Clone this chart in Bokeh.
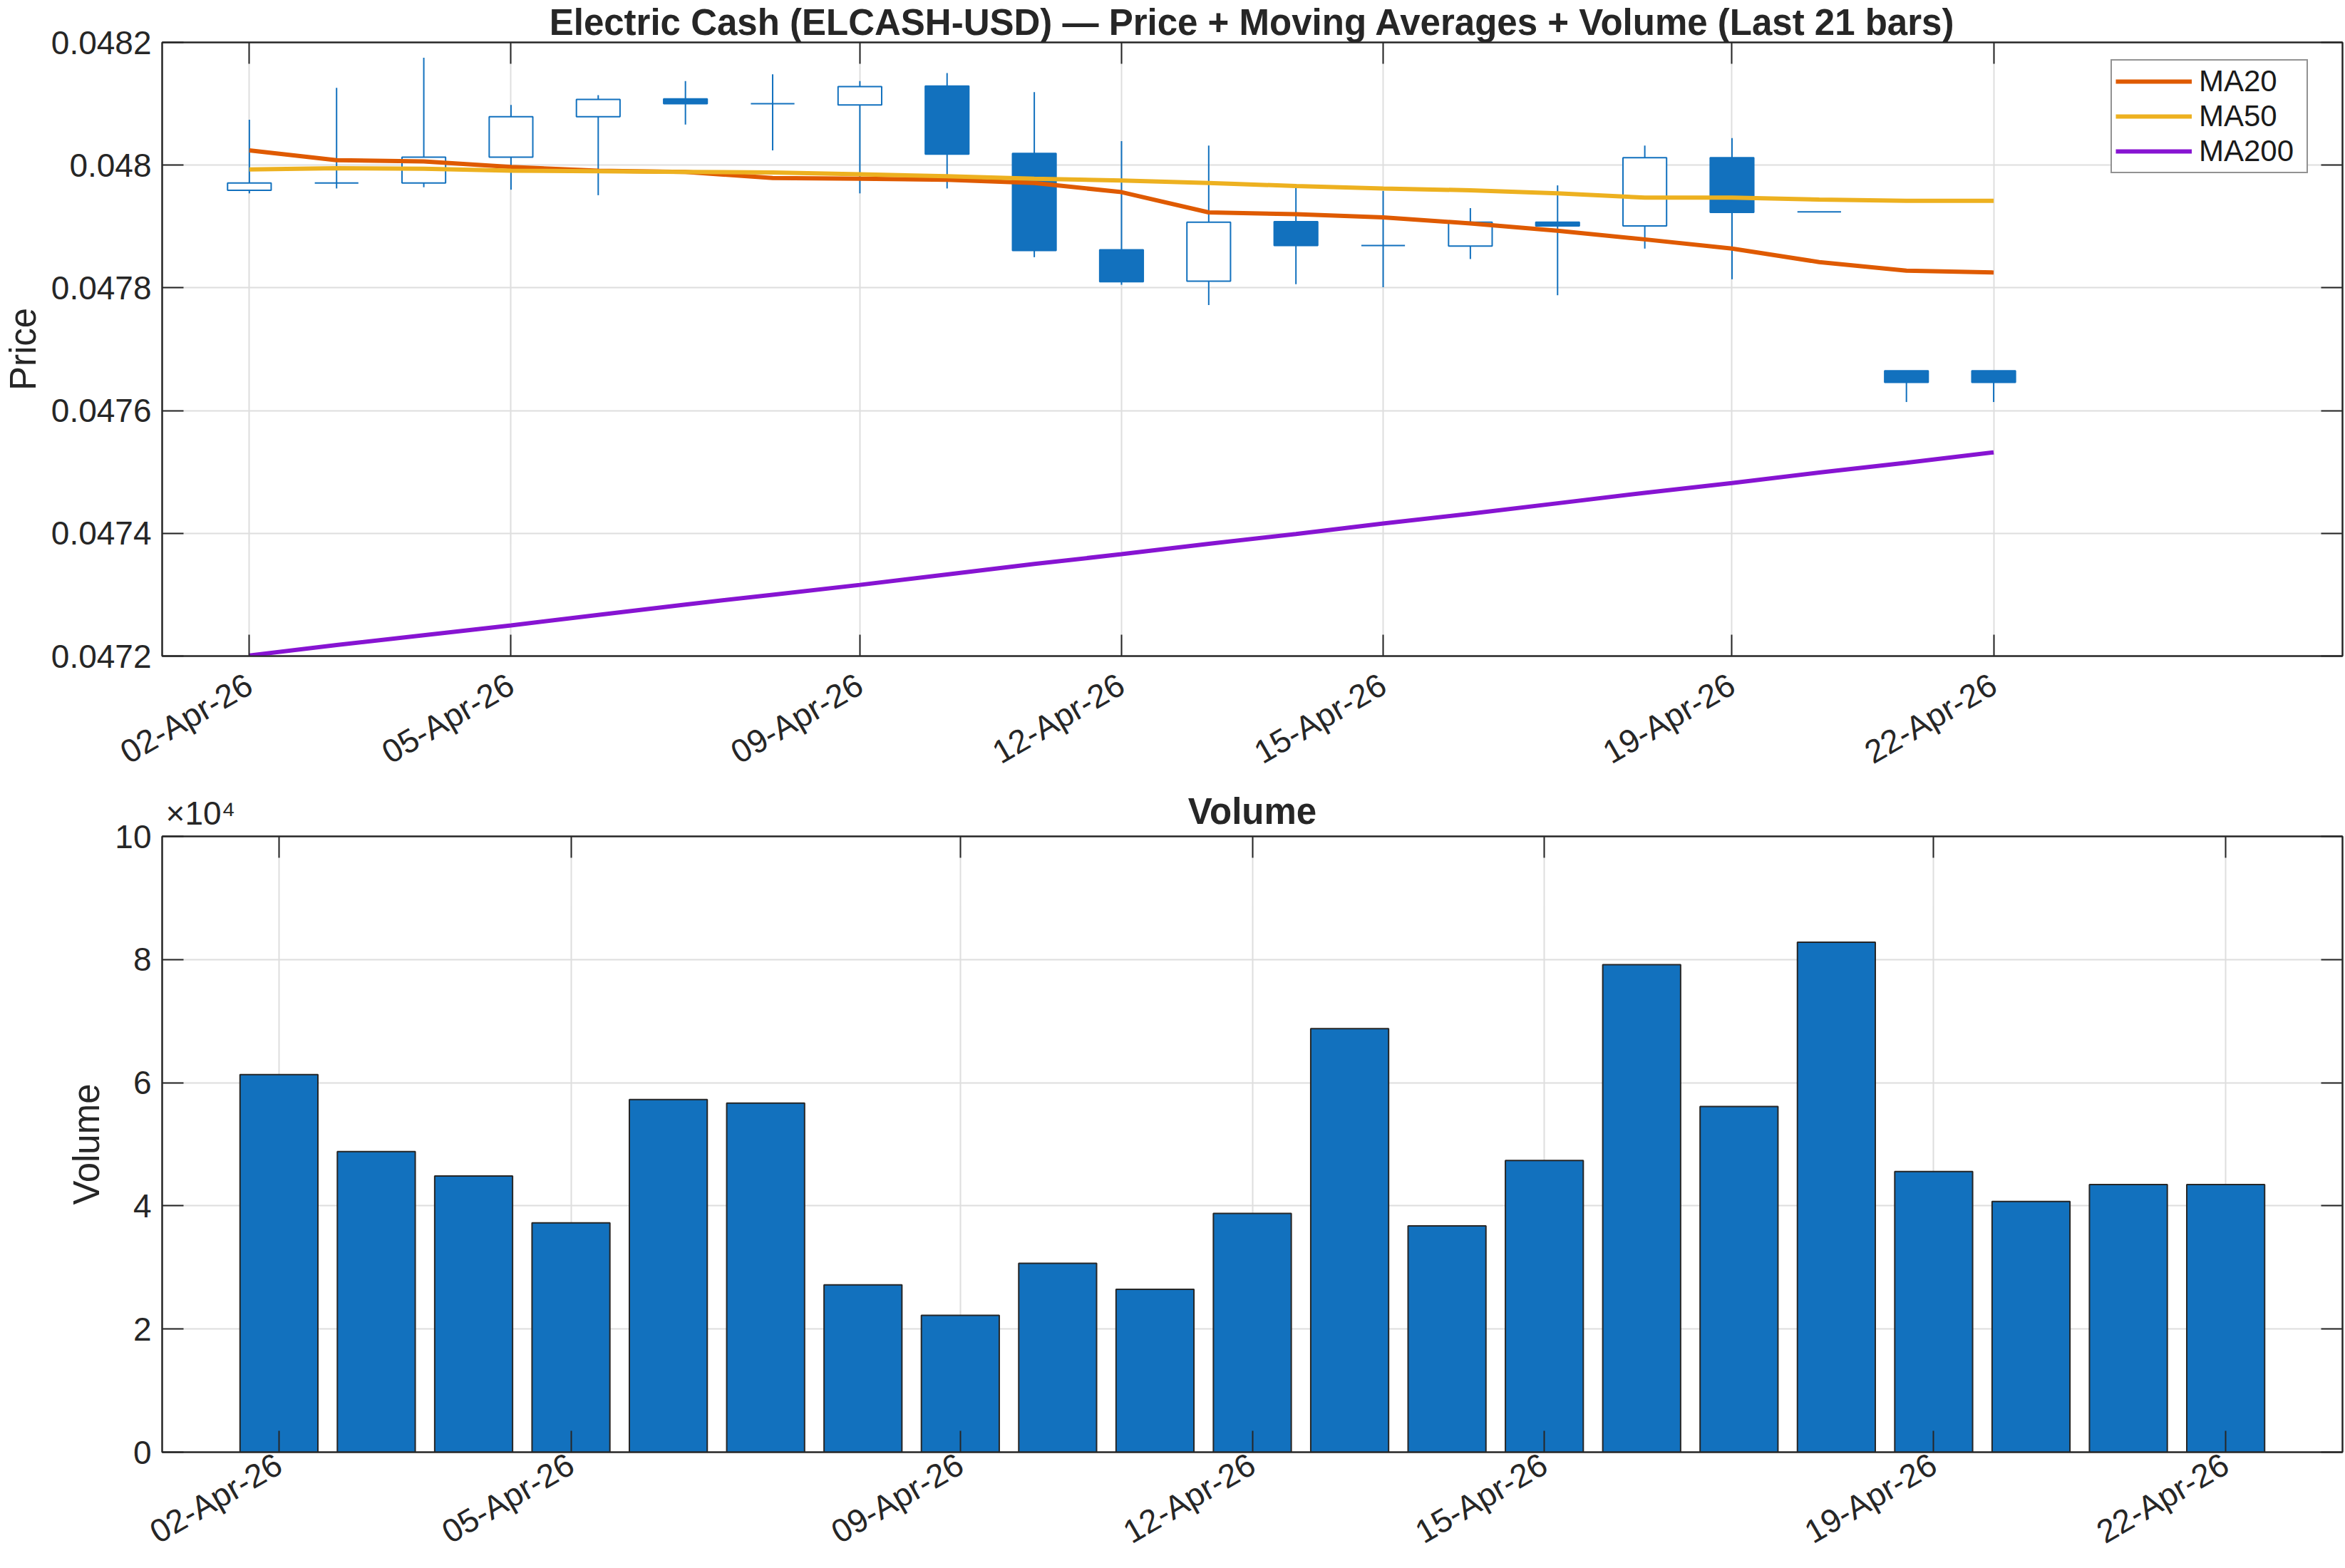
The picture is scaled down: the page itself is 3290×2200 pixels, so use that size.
import math
from bokeh.plotting import figure
from bokeh.layouts import column
from bokeh.models import (ColumnDataSource, FixedTicker, LinearAxis, Range1d, Title,
                          Legend, LegendItem, NumeralTickFormatter, CustomJSTickFormatter)
from bokeh.embed import file_html
from bokeh.resources import INLINE

# ---------------- data ----------------
dates = ["02-Apr-26", "03-Apr-26", "04-Apr-26", "05-Apr-26", "06-Apr-26", "07-Apr-26",
         "08-Apr-26", "09-Apr-26", "10-Apr-26", "11-Apr-26", "12-Apr-26", "13-Apr-26",
         "14-Apr-26", "15-Apr-26", "16-Apr-26", "17-Apr-26", "18-Apr-26", "19-Apr-26",
         "20-Apr-26", "21-Apr-26", "22-Apr-26"]
opens = [0.047959, 0.047971, 0.047971, 0.048013, 0.048079, 0.048108, 0.048100,
         0.048098, 0.048129, 0.048019, 0.047862, 0.047811, 0.047908, 0.047869,
         0.047868, 0.047907, 0.047901, 0.048012, 0.047924, 0.047665, 0.047665]
highs = [0.048074, 0.048126, 0.048175, 0.048098, 0.048114, 0.048137, 0.048148,
         0.048137, 0.048150, 0.048119, 0.048039, 0.048032, 0.047969, 0.047958,
         0.047930, 0.047967, 0.048032, 0.048044, 0.047924, 0.047665, 0.047665]
lows = [0.047954, 0.047962, 0.047964, 0.047960, 0.047951, 0.048066, 0.048024,
        0.047954, 0.047962, 0.047850, 0.047805, 0.047772, 0.047806, 0.047801,
        0.047847, 0.047788, 0.047864, 0.047814, 0.047924, 0.047614, 0.047614]
closes = [0.047971, 0.047971, 0.048013, 0.048079, 0.048107, 0.048100, 0.048100,
          0.048128, 0.048018, 0.047861, 0.047810, 0.047907, 0.047869, 0.047869,
          0.047907, 0.047901, 0.048012, 0.047923, 0.047924, 0.047646, 0.047646]
ma20 = [0.048024, 0.048008, 0.048006, 0.047997, 0.047991, 0.047989, 0.047979,
        0.047978, 0.047976, 0.047971, 0.047956, 0.047923, 0.047920, 0.047915,
        0.047905, 0.047893, 0.047879, 0.047864, 0.047842, 0.047828, 0.047825]
ma50 = [0.047993, 0.047995, 0.047994, 0.047991, 0.047990, 0.047989, 0.047988,
        0.047985, 0.047982, 0.047978, 0.047975, 0.047971, 0.047966, 0.047962,
        0.047959, 0.047954, 0.047947, 0.047947, 0.047944, 0.047942, 0.047942]
ma200 = [0.047201, 0.047218, 0.047234, 0.047250, 0.047267, 0.047284, 0.047300,
         0.047316, 0.047333, 0.047350, 0.047366, 0.047383, 0.047399, 0.047416,
         0.047432, 0.047449, 0.047466, 0.047482, 0.047499, 0.047515, 0.047532]
volume = [61310, 48820, 44850, 37230, 57260, 56690, 27170, 22220, 30660, 26440,
          38770, 68780, 36740, 47360, 79160, 56120, 82810, 45580, 40710, 43470, 43470]
tick_idx = [0, 3, 7, 10, 13, 17, 20]
tick_labels = [dates[i] for i in tick_idx]
price_ticks = [0.0472, 0.0474, 0.0476, 0.0478, 0.0480, 0.0482]
volume_ticks = [0, 20000, 40000, 60000, 80000, 100000]
volume_tick_labels = ["0", "2", "4", "6", "8", "10"]

title_text = "Electric Cash (ELCASH-USD) \u2014 Price + Moving Averages + Volume (Last 21 bars)"
volume_title = "Volume"
exponent_label = "\u00d710\u2074"

# ---------------- style ----------------
FONT = "Liberation Sans"
INK = "#262626"
BLUE = "#1271BE"
GRID = "#DEDEDE"
C20, C50, C200 = "#DF5A00", "#EDB120", "#8714D2"

W = 3290
LEFT, RIGHT = 224, 4
idx = list(range(len(dates)))


def style_axes(p, xticks, yticks, xlabels, ylabel, xstandoff):
    p.outline_line_color = INK
    p.outline_line_width = 2
    p.background_fill_color = "white"
    p.border_fill_color = "white"
    p.xgrid.ticker = FixedTicker(ticks=xticks)
    p.ygrid.ticker = FixedTicker(ticks=yticks)
    for g in (p.xgrid, p.ygrid):
        g.grid_line_color = GRID
        g.grid_line_width = 2
    xa = p.xaxis[0]
    xa.ticker = FixedTicker(ticks=xticks)
    xa.major_label_overrides = {t: l for t, l in zip(xticks, xlabels)}
    xa.major_label_orientation = math.pi / 6
    ya = p.yaxis[0]
    ya.ticker = FixedTicker(ticks=yticks)
    ya.axis_label = ylabel
    for ax in (xa, ya):
        ax.axis_line_color = INK
        ax.axis_line_width = 2
        ax.major_tick_line_color = INK
        ax.major_tick_line_width = 2
        ax.major_tick_in = 30
        ax.major_tick_out = 0
        ax.minor_tick_line_color = None
        ax.major_label_text_font = FONT
        ax.major_label_text_font_size = "46px"
        ax.major_label_text_color = INK
        ax.axis_label_text_font = FONT
        ax.axis_label_text_font_size = "51px"
        ax.axis_label_text_font_style = "normal"
        ax.axis_label_text_color = INK
    ya.major_label_standoff = 15
    ya.axis_label_standoff = 8
    xa.major_label_standoff = xstandoff
    blank = CustomJSTickFormatter(code="return ''")
    for loc, tk in (("above", xticks), ("right", yticks)):
        ax = LinearAxis(ticker=FixedTicker(ticks=tk), formatter=blank,
                        axis_line_color=INK, axis_line_width=2,
                        major_tick_line_color=INK, major_tick_line_width=2,
                        major_tick_in=30, major_tick_out=0,
                        minor_tick_line_color=None, major_label_standoff=0,
                        major_label_text_font_size="1px")
        p.add_layout(ax, loc)


# ---------------- price panel ----------------
H1 = 1106
p1 = figure(width=W, height=H1, output_backend="svg", toolbar_location=None,
            x_range=Range1d(-1, 24), y_range=Range1d(0.0472, 0.0482),
            min_border_left=LEFT, min_border_right=RIGHT, min_border_top=50,
            min_border_bottom=H1 - 920)
p1.title = Title(text=title_text, align="center", text_font=FONT, text_font_size="51px",
                 text_font_style="bold", text_color=INK, standoff=0)
style_axes(p1, tick_idx, price_ticks, tick_labels, "Price", 36)
p1.yaxis[0].formatter = NumeralTickFormatter(format="0.0[000]")

src = ColumnDataSource(dict(
    x=idx, open=opens, high=highs, low=lows, close=closes,
    top=[max(o, c) for o, c in zip(opens, closes)],
    bottom=[min(o, c) for o, c in zip(opens, closes)],
    fill=[BLUE if c < o else "white" for o, c in zip(opens, closes)],
))
p1.segment(x0="x", y0="low", x1="x", y1="high", source=src, line_color=BLUE, line_width=2)
p1.vbar(x="x", width=0.5, top="top", bottom="bottom", source=src,
        fill_color="fill", line_color=BLUE, line_width=2)

r20 = p1.line(idx, ma20, line_color=C20, line_width=6)
r50 = p1.line(idx, ma50, line_color=C50, line_width=6)
r200 = p1.line(idx, ma200, line_color=C200, line_width=6)

legend = Legend(items=[LegendItem(label="MA20", renderers=[r20]),
                       LegendItem(label="MA50", renderers=[r50]),
                       LegendItem(label="MA200", renderers=[r200])],
                location=(2734, 677), padding=5, spacing=1,
                glyph_width=107, glyph_height=40, label_height=40, label_width=146,
                label_standoff=10, label_text_line_height=1.15,
                label_text_font=FONT, label_text_font_size="42px", label_text_color="#1a1a1a",
                border_line_color=INK, border_line_width=2, background_fill_alpha=1,
                margin=0)
p1.add_layout(legend, "center")

# ---------------- volume panel ----------------
H2 = 2200 - H1
p2 = figure(width=W, height=H2, output_backend="svg", toolbar_location=None,
            x_range=Range1d(-1.2, 21.2), y_range=Range1d(0, 100000),
            min_border_left=LEFT, min_border_right=RIGHT, min_border_top=1173 - H1,
            min_border_bottom=162)
style_axes(p2, tick_idx, volume_ticks, tick_labels, "Volume", 13)
p2.yaxis[0].major_label_overrides = {t: l for t, l in zip(volume_ticks, volume_tick_labels)}

p2.vbar(x=idx, top=volume, width=0.8, fill_color=BLUE, line_color=INK, line_width=2)

# exponent marker (top-left) and panel title share one header line above the frame
px_per_unit = (W - LEFT - RIGHT) / (p2.x_range.end - p2.x_range.start)
exp_pos = p2.x_range.start + 54 / px_per_unit
header = LinearAxis(ticker=FixedTicker(ticks=[exp_pos]),
                    formatter=CustomJSTickFormatter(args=dict(t=exponent_label), code="return t"),
                    axis_line_color=None, major_tick_line_color=None,
                    minor_tick_line_color=None, major_tick_in=0, major_tick_out=0,
                    major_label_standoff=7, major_label_text_font=FONT,
                    major_label_text_font_size="46px", major_label_text_color=INK,
                    axis_label=volume_title, axis_label_standoff=-55,
                    axis_label_text_font=FONT, axis_label_text_font_size="51px",
                    axis_label_text_font_style="bold", axis_label_text_color=INK)
p2.add_layout(header, "above")

layout = column(p1, p2, spacing=0)
open("out.html", "w").write(file_html(layout, INLINE))
